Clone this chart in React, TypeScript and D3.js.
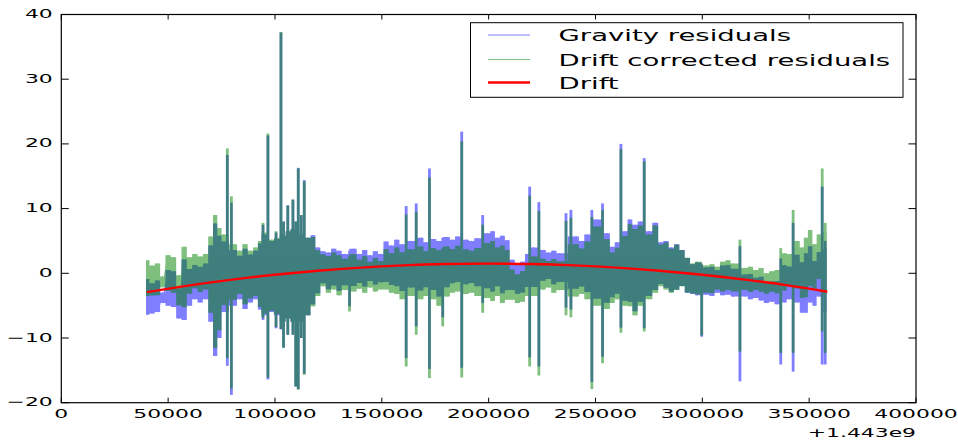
import React from 'react';
import * as d3 from 'd3';

// Time offsets (s) from 1.443e9 for the band samples of the residual series
const bandX = [
  40000, 42500, 45000, 47500, 50000, 52500, 55000, 57500, 60000, 62500, 65000, 67500,
  70000, 72000, 74000, 76000, 81000, 83500, 86000, 88500, 91000, 93000, 94400, 98500,
  100500, 104000, 106000, 108400, 112300, 115500, 117800,
  120000, 122500, 125000, 127500, 130000, 132500, 137000, 139500, 142000, 144500, 147000,
  149500, 152000, 154500, 157000, 159500, 163700, 168500, 170500, 174500, 176500, 180700,
  183000, 185500, 189500, 192000, 194500, 199500, 201900, 204000, 206500, 208700, 211000,
  213500, 216000, 218000, 221000, 225500, 228000, 230500, 233000, 241000, 243500, 246000,
  250500, 255500, 258000, 260000, 264000, 266000, 268500, 271000, 275000, 278200, 280500,
  283000, 285500, 288000, 290500,
  293000, 295500, 297500, 302000, 304500, 307000, 309500, 312000, 314500, 320000, 322500,
  325000, 327500, 330000, 332500, 335000, 338500, 340500, 344500, 346700, 348300, 350500,
  352500, 354500, 357800,
];

// Gravity residuals (upper / lower envelope)
const gravHi = [
  -0.9, -1.55, -1.1, -2.95, 0.5, 0.3, -2.35, 2.15, 0.65, 1.3, 1.0, 1.5,
  4.3, 7.7, 5.8, 4.9, 3.6, 2.7, 3.8, 2.9, 3.5, 4.6, 6.0, 5.0,
  5.3, 5.8, 6.5, 6.8, 6.0, 5.5, 5.9,
  4.0, 3.4, 3.2, 3.8, 3.5, 3.0, 3.8, 3.0, 3.6, 2.8, 3.4,
  3.0, 4.9, 4.3, 5.2, 4.5, 5.0, 5.5, 4.8, 5.3, 5.0, 5.6,
  5.2, 5.7, 5.2, 5.0, 5.4, 6.2, 6.5, 5.5, 5.8, 5.1, 2.1,
  1.3, 1.8, 3.0, 4.0, 3.6, 3.2, 3.5, 3.1, 5.7, 5.0, 6.0,
  8.3, 6.2, 4.1, 4.8, 6.5, 8.3, 7.5, 8.0, 6.5, 7.8, 4.8,
  5.0, 4.0, 4.5, 3.6,
  2.35, 1.4, 1.65, 0.9, 1.0, 0.5, 1.2, 1.3, 0.7, -0.2, -0.1,
  -0.7, -0.55, -1.45, -1.25, -1.2, 1.25, 1.05, 2.85, 1.7, 3.1, 4.2,
  1.9, 3.3, 3.7,
];
const gravLo = [
  -6.4, -6.2, -6.0, -4.6, -5.0, -5.2, -7.0, -7.2, -5.0, -4.0, -4.5, -4.0,
  -7.5, -12.8, -10.0, -6.0, -5.0, -4.0, -5.5, -4.5, -4.0, -5.6, -6.5, -6.0,
  -6.5, -7.5, -7.0, -7.5, -7.5, -6.5, -4.8,
  -3.1, -1.55, -2.45, -1.9, -2.7, -1.85, -1.95, -1.5, -2.05, -1.2, -1.75,
  -1.4, -1.35, -1.8, -2.0, -2.75, -2.2, -2.65, -2.15, -2.6, -3.6, -2.15,
  -1.55, -1.35, -1.7, -1.5, -2.0, -2.3, -2.8, -2.0, -3.1, -2.6, -2.6,
  -3.15, -2.95, -2.1, -2.1, -1.15, -0.9, -1.7, -1.35, -2.4, -2.05, -2.9,
  -3.95, -4.55, -3.7, -3.15, -4.25, -4.4, -5.85, -4.4, -3.5, -2.6, -1.65,
  -2.25, -2.8, -2.5, -1.95,
  -3.0, -3.2, -3.4, -3.3, -3.5, -3.0, -3.4, -3.3, -3.6, -3.6, -4.0,
  -3.8, -4.2, -4.6, -4.4, -4.8, -4.5, -4.0, -4.5, -6.1, -6.1, -4.5,
  -5.0, -3.6, -6.0,
];

// Drift corrected residuals (upper / lower envelope)
const corrHi = [
  2.0, 1.2, 1.5, -0.5, 2.8, 2.5, -0.3, 4.1, 2.5, 3.0, 2.6, 3.0,
  5.7, 9.0, 7.0, 6.0, 4.5, 3.5, 4.5, 3.5, 4.0, 5.0, 6.3, 5.2,
  5.5, 5.8, 6.5, 6.8, 6.0, 5.5, 5.6,
  3.6, 2.95, 2.65, 3.2, 2.8, 2.25, 2.95, 2.1, 2.65, 1.8, 2.35,
  1.9, 3.75, 3.1, 4.0, 3.25, 3.7, 4.15, 3.45, 3.9, 3.6, 4.15,
  3.75, 4.25, 3.7, 3.5, 3.9, 4.7, 5.0, 4.0, 4.3, 3.6, 0.6,
  -0.15, 0.35, 1.6, 2.6, 2.25, 1.9, 2.2, 1.85, 4.5, 3.85, 4.9,
  7.25, 5.25, 3.2, 3.95, 5.75, 7.6, 6.85, 7.4, 6.0, 7.4, 4.45,
  4.75, 3.8, 4.4, 3.55,
  2.4, 1.5, 1.8, 1.2, 1.4, 1.0, 1.8, 2.0, 1.5, 0.8, 1.0,
  0.5, 0.8, 0.0, 0.3, 0.5, 3.1, 3.0, 5.0, 4.0, 5.5, 6.7,
  4.5, 6.0, 6.5,
];
const corrLo = [
  -3.5, -3.45, -3.4, -2.15, -2.7, -3.0, -4.95, -5.25, -3.15, -2.3, -2.9, -2.5,
  -6.1, -11.5, -8.8, -4.9, -4.1, -3.2, -4.8, -3.9, -3.5, -5.2, -6.2, -5.8,
  -6.3, -7.5, -7.0, -7.5, -7.5, -6.5, -5.1,
  -3.5, -2.0, -3.0, -2.5, -3.4, -2.6, -2.8, -2.4, -3.0, -2.2, -2.8,
  -2.5, -2.5, -3.0, -3.2, -4.0, -3.5, -4.0, -3.5, -4.0, -5.0, -3.6,
  -3.0, -2.8, -3.2, -3.0, -3.5, -3.8, -4.3, -3.5, -4.6, -4.1, -4.1,
  -4.6, -4.4, -3.5, -3.5, -2.5, -2.2, -3.0, -2.6, -3.6, -3.2, -4.0,
  -5.0, -5.5, -4.6, -4.0, -5.0, -5.1, -6.5, -5.0, -4.0, -3.0, -2.0,
  -2.5, -3.0, -2.6, -2.0,
  -2.95, -3.1, -3.25, -3.0, -3.1, -2.5, -2.8, -2.6, -2.8, -2.6, -2.9,
  -2.6, -2.85, -3.15, -2.85, -3.1, -2.65, -2.05, -2.35, -3.8, -3.7, -2.0,
  -2.4, -0.9, -3.2,
];

// Isolated spikes of the residual series
const spikeX = [
  77700, 79600, 94400, 96700, 100500, 102800, 104000, 106000, 108400, 109700, 110900,
  112300, 113700, 134900, 161400, 166100, 172300,
  178500, 187400, 197200, 219200, 223500, 236200, 238500, 248300, 253300, 261900, 272800,
  299700, 317600, 336700, 342500, 356100, 357500,
];
const spikeGravHi = [
  18.3, 10.9, 7.5, 21.3, 6.3, 37.2, 8.0, 10.5, 11.4, 8.0, 16.3,
  9.0, 14.4, 3.5, 10.4, 10.8, 16.2,
  5.5, 21.9, 9.0, 13.4, 11.0, 9.3, 9.8, 9.8, 10.8, 20.0, 17.8,
  1.3, 4.2, 2.3, 7.8, 13.4, 5.0,
];
const spikeGravLo = [
  -14.3, -18.8, -7.2, -16.4, -8.5, -8.7, -11.5, -9.5, -9.5, -17.5, -17.9,
  -10.0, -15.5, -5.1, -13.1, -8.2, -14.8,
  -6.8, -14.6, -4.6, -13.0, -14.4, -5.3, -5.6, -16.8, -12.9, -8.4, -8.5,
  -9.8, -16.7, -14.1, -15.2, -14.1, -14.1,
];
const spikeCorrHi = [
  19.3, 11.9, 7.8, 21.6, 6.5, 37.3, 8.0, 10.5, 11.4, 8.0, 16.2,
  9.0, 14.2, 2.7, 9.1, 9.5, 14.8,
  4.0, 20.4, 7.5, 12.0, 9.6, 8.1, 8.6, 8.7, 9.8, 19.2, 17.3,
  1.5, 5.2, 3.9, 9.8, 16.2, 7.8,
];
const spikeCorrLo = [
  -13.1, -17.8, -6.9, -16.1, -8.3, -8.6, -11.5, -9.5, -9.5, -17.5, -18.0,
  -10.0, -15.7, -5.9, -14.4, -9.5, -16.2,
  -8.2, -16.1, -6.1, -14.4, -15.8, -6.5, -6.8, -17.9, -13.9, -9.2, -9.0,
  -9.6, -12.1, -12.3, -12.3, -9.0, -12.3,
];

// Drift polynomial
const driftX = [40000, 60000, 80000, 100000, 120000, 140000, 160000, 180000, 200000,
  220000, 240000, 260000, 280000, 300000, 320000, 340000, 358500];
const driftY = [-2.9, -1.87, -0.98, -0.22, 0.4, 0.88, 1.22, 1.43, 1.5,
  1.43, 1.22, 0.88, 0.4, -0.22, -0.98, -1.87, -2.85];

const xTicks = [0, 50000, 100000, 150000, 200000, 250000, 300000, 350000, 400000];
const yTicks = [-20, -10, 0, 10, 20, 30, 40];
const offsetLabel = '+1.443e9';
const legendLabels = ['Gravity residuals', 'Drift corrected residuals', 'Drift'];
const legendColors = ['#0000ff', '#008000', '#ff0000'];

const W = 958;
const H = 441;
const L = 61.3, R = 916, T = 14.5, B = 402.7;
const FONT = '"DejaVu Sans", sans-serif';
const SX_TICK = 1.75;
const SX_LEG = 1.72;

export default function App() {
  const x = d3.scaleLinear().domain([0, 400000]).range([L, R]);
  const y = d3.scaleLinear().domain([-20, 40]).range([B, T]);
  const idx = d3.range(bandX.length);

  const mkArea = (hi: number[], lo: number[]) =>
    d3.area<number>()
      .x((i) => x(bandX[i]))
      .y0((i) => y(lo[i]))
      .y1((i) => y(hi[i]))
      .curve(d3.curveStep)(idx) || '';

  const mkZig = (hi: number[], lo: number[]) => {
    const pts: [number, number][] = [];
    idx.forEach((i) => {
      pts.push([x(bandX[i]), y(hi[i])]);
      pts.push([x(bandX[i]), y(lo[i])]);
    });
    return d3.line()(pts) || '';
  };

  const series = [
    { color: legendColors[0], hi: gravHi, lo: gravLo, sHi: spikeGravHi, sLo: spikeGravLo },
    { color: legendColors[1], hi: corrHi, lo: corrLo, sHi: spikeCorrHi, sLo: spikeCorrLo },
  ];

  const driftPath = d3.line<number>()
    .x((i) => x(driftX[i]))
    .y((i) => y(driftY[i]))
    .curve(d3.curveNatural)(d3.range(driftX.length)) || '';

  const fmt = d3.format('d');
  const legX0 = 470.5, legX1 = 903, legY0 = 22.7, legY1 = 97.3;
  const legRowY = [35, 59.5, 82.5];

  return (
    <svg width={W} height={H} style={{ position: 'absolute', left: 0, top: 0, background: '#fff' }}
      fontFamily={FONT}>
      <rect x={0} y={0} width={W} height={H} fill="#fff" />
      <defs>
        <clipPath id="plotClip">
          <rect x={L} y={T} width={R - L} height={B - T} />
        </clipPath>
      </defs>
      <g clipPath="url(#plotClip)">
        {series.map((s, k) => (
          <g key={k} opacity={0.5}>
            <path d={mkArea(s.hi, s.lo)} fill={s.color} stroke="none" />
            <path d={mkZig(s.hi, s.lo)} fill="none" stroke={s.color} strokeWidth={1.5} />
            {spikeX.map((sx, j) => (
              <line key={j} x1={x(sx)} x2={x(sx)} y1={y(s.sHi[j])} y2={y(s.sLo[j])}
                stroke={s.color} strokeWidth={2.8} />
            ))}
          </g>
        ))}
        <path d={driftPath} fill="none" stroke="#ff0000" strokeWidth={2.4} />
      </g>

      {/* frame */}
      <rect x={L} y={T} width={R - L} height={B - T} fill="none" stroke="#000" strokeWidth={1.2} />

      {/* x ticks */}
      {xTicks.map((t) => (
        <g key={'x' + t}>
          <line x1={x(t)} x2={x(t)} y1={B} y2={B - 5} stroke="#000" strokeWidth={1} />
          <line x1={x(t)} x2={x(t)} y1={T} y2={T + 5} stroke="#000" strokeWidth={1} />
          <text transform={`translate(${x(t)},${418.3}) scale(${SX_TICK},1)`} textAnchor="middle"
            fontSize={12.5} fill="#000">{fmt(t)}</text>
        </g>
      ))}
      <text transform={`translate(${R},${436.5}) scale(${SX_TICK},1)`} textAnchor="end"
        fontSize={12.5} fill="#000">{offsetLabel}</text>

      {/* y ticks */}
      {yTicks.map((t) => (
        <g key={'y' + t}>
          <line x1={L} x2={L + 7.5} y1={y(t)} y2={y(t)} stroke="#000" strokeWidth={1} />
          <line x1={R} x2={R - 7.5} y1={y(t)} y2={y(t)} stroke="#000" strokeWidth={1} />
          <text transform={`translate(${52.7},${y(t) + 3.5}) scale(${SX_TICK},1)`} textAnchor="end"
            fontSize={12.5} fill="#000">{fmt(t)}</text>
        </g>
      ))}

      {/* legend */}
      <rect x={legX0} y={legY0} width={legX1 - legX0} height={legY1 - legY0} fill="#fff"
        stroke="#000" strokeWidth={1} />
      {legendLabels.map((lab, i) => (
        <g key={lab}>
          <line x1={488} x2={530} y1={legRowY[i]} y2={legRowY[i]} stroke={legendColors[i]}
            strokeWidth={i === 2 ? 2.4 : 1} strokeOpacity={i === 2 ? 1 : 0.5} />
          <text transform={`translate(${558.5},${legRowY[i] + 6}) scale(${SX_LEG},1)`}
            fontSize={16} fill="#000">{lab}</text>
        </g>
      ))}
    </svg>
  );
}
